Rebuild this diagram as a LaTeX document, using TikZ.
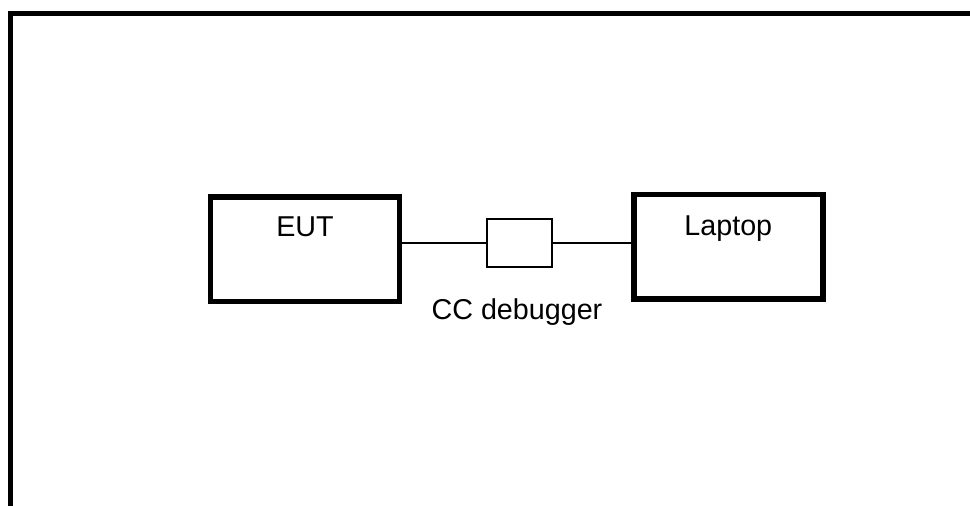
\documentclass[tikz,border=0pt]{standalone}
\usepackage{fontspec}
\setmainfont{Liberation Sans}
\begin{document}
\begin{tikzpicture}[x=1pt,y=1pt,
  bigbox/.style={draw,line width=5.5pt,minimum width=189pt,minimum height=104.5pt,inner sep=0pt},
  smallbox/.style={draw,line width=1.9pt,minimum width=65.6pt,minimum height=48.7pt,inner sep=0pt},
  wire/.style={line width=1.6pt},
  lbl/.style={anchor=base,inner sep=0pt,font=\fontsize{28.7}{34}\selectfont}]
\useasboundingbox[fill=white] (0,0) rectangle (970,-506);
\clip (0,0) rectangle (970,-506);
\draw[line width=5.5pt] (10.5,-520) -- (10.5,-13.5) -- (990,-13.5);
\node[bigbox] (eut) at (305,-249) {};
\node[bigbox] (laptop) at (728.5,-246.75) {};
\node[smallbox] (dbg) at (519.5,-243) {};
\node[lbl] (eutlbl) at (305,-236) {EUT};
\node[lbl] (laptoplbl) at (728.3,-235) {Laptop};
\node[lbl] (dbglbl) at (517,-319) {CC debugger};
\draw[wire] (eut.east |- dbg.west) -- (dbg.west);
\draw[wire] (dbg.east) -- (laptop.west |- dbg.east);
\end{tikzpicture}
\end{document}
